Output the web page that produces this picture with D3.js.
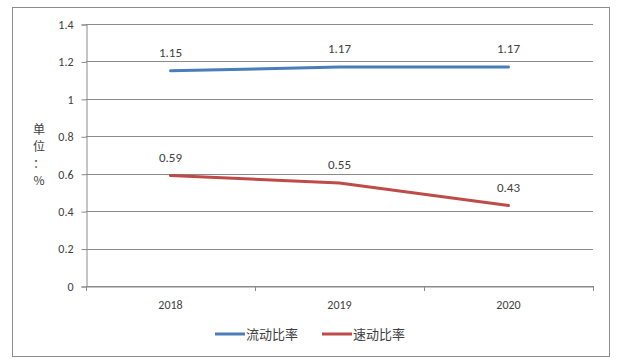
<!DOCTYPE html>
<html><head><meta charset="utf-8">
<script src="https://cdnjs.cloudflare.com/ajax/libs/d3/7.8.5/d3.min.js"></script>
<style>body{margin:0;background:#fff}svg{display:block}</style>
</head><body><svg id="c" width="624" height="361"></svg>
<script>
const years = ["2018", "2019", "2020"];
const currentRatio = [1.15, 1.17, 1.17];
const quickRatio = [0.59, 0.55, 0.43];
const yTicks = [0, 0.2, 0.4, 0.6, 0.8, 1, 1.2, 1.4];
const seriesNames = ["流动比率", "速动比率"];
const colors = ["#4a7ebb", "#be4b48"];

const svg = d3.select("#c");
const font = "'Microsoft YaHei','Noto Sans CJK SC','DejaVu Sans',sans-serif";
svg.append("rect").attr("x", 12.5).attr("y", 7.5).attr("width", 597).attr("height", 349)
  .attr("fill", "#fff").attr("stroke", "#8c8c8c").attr("stroke-width", 1);

const L = 86, R = 593, T = 24, B = 286;
const x = d3.scaleBand().domain(years).range([L, R]);
const y = d3.scaleLinear().domain([0, 1.4]).range([B, T]);

const g = svg.append("g");
// gridlines
g.selectAll("line.grid").data(yTicks).join("line")
  .attr("x1", L).attr("x2", R).attr("y1", d => Math.round(y(d)) + 0.5).attr("y2", d => Math.round(y(d)) + 0.5)
  .attr("stroke", "#8a8a8a").attr("stroke-width", 1);

// y axis
const ya = g.append("g").attr("transform", `translate(${L + 0.5},0.5)`)
  .call(d3.axisLeft(y).tickValues(yTicks).tickSize(5).tickPadding(8).tickFormat(d => d3.format("")(d)));
ya.select(".domain").attr("stroke", "#8a8a8a");
ya.selectAll(".tick line").attr("stroke", "#8a8a8a");
ya.selectAll("text").attr("fill", "#404040").style("font-size", "12px").style("font-family", "Calibri,Carlito,'Liberation Sans',sans-serif");

// x axis
const xa = g.append("g").attr("transform", `translate(0,${B + 0.5})`)
  .call(d3.axisBottom(x).tickSize(0).tickPadding(14));
xa.select(".domain").attr("stroke", "#8a8a8a");
xa.selectAll("text").attr("fill", "#404040").style("font-size", "12px").style("font-family", "Calibri,Carlito,'Liberation Sans',sans-serif");
// band boundary ticks
const bounds = years.map(d => x(d)).concat([R]);
g.selectAll("line.xt").data(bounds).join("line")
  .attr("x1", d => Math.round(d) + 0.5).attr("x2", d => Math.round(d) + 0.5)
  .attr("y1", B).attr("y2", B + 5).attr("stroke", "#8a8a8a");

// y unit label
const unit = ["单", "位", "：", "%"];
g.selectAll("text.unit").data(unit).join("text")
  .attr("x", 39).attr("y", (d, i) => 134 + i * 17)
  .attr("text-anchor", "middle").attr("fill", "#404040")
  .style("font-size", "12px").style("font-family", font).text(d => d);

const cx = d => x(d) + x.bandwidth() / 2;
const line = d3.line().x(d => cx(d.year)).y(d => y(d.v));
[currentRatio, quickRatio].forEach((arr, si) => {
  const data = years.map((yr, i) => ({ year: yr, v: arr[i] }));
  g.append("path").datum(data).attr("d", line).attr("fill", "none")
    .attr("stroke", colors[si]).attr("stroke-width", 3).attr("stroke-linecap", "round");
  g.selectAll(null).data(data).join("text")
    .attr("x", d => cx(d.year)).attr("y", d => y(d.v) - 14)
    .attr("text-anchor", "middle").attr("fill", "#404040")
    .style("font-size", "13px").style("font-family", "Calibri,Carlito,'Liberation Sans',sans-serif")
    .text(d => d3.format(".2f")(d.v));
});

// legend
const legX = [215, 322];
seriesNames.forEach((n, i) => {
  g.append("line").attr("x1", legX[i]).attr("x2", legX[i] + 30).attr("y1", 334).attr("y2", 334)
    .attr("stroke", colors[i]).attr("stroke-width", 3);
  g.append("text").attr("x", legX[i] + 31).attr("y", 338.5).attr("fill", "#404040")
    .style("font-size", "13px").style("font-family", font).text(n);
});
</script></body></html>
